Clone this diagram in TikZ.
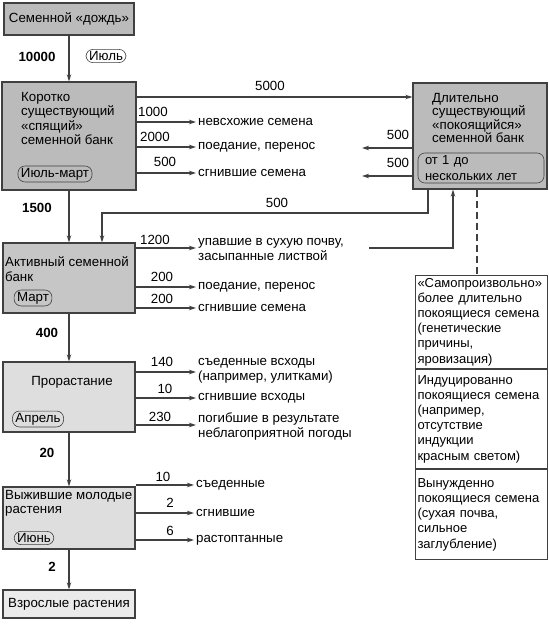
\documentclass[tikz,border=0pt]{standalone}
\usepackage{fontspec}
\setmainfont{Liberation Sans}
\usetikzlibrary{arrows.meta}
\definecolor{ln}{HTML}{404040}
\definecolor{dk}{HTML}{BBBBBB}
\definecolor{md}{HTML}{C6C6C6}
\definecolor{lt}{HTML}{DEDEDE}
\definecolor{vl}{HTML}{EBEBEB}
\begin{document}
\begin{tikzpicture}[x=1pt,y=-1pt,
  font=\fontsize{13.3}{15}\selectfont,
  box/.style={draw=ln, line width=1.3pt, inner sep=0pt},
  arr/.style={draw=ln, line width=1.3pt, -{Stealth[length=7pt,width=4.5pt]}},
  pill/.style={draw=ln, line width=0.6pt, rounded corners=7pt, inner xsep=3pt, inner ysep=2pt},
  txt/.style={inner sep=2pt, align=left},
  num/.style={inner sep=1pt},
  bnum/.style={inner sep=1pt, font=\fontsize{13.3}{15}\selectfont\bfseries},
  stk/.style={draw=ln, line width=1pt, anchor=north west, text width=128pt, inner xsep=2pt, inner ysep=0pt, align=left, font=\fontsize{13}{15.2}\selectfont}]
\useasboundingbox (0,0) rectangle (549,624);
\fill[white] (0,0) rectangle (549,624);

% boxes
\node[box, fill=dk, minimum width=130pt, minimum height=32pt] (rain) at (69,19) {Семенной «дождь»};
\node[box, fill=dk, minimum width=134pt, minimum height=108pt] (short) at (69,136) {};
\node[box, fill=dk, minimum width=134pt, minimum height=106pt] (long) at (480,136) {};
\node[box, fill=md, minimum width=132pt, minimum height=70pt] (active) at (69,278) {};
\node[box, fill=lt, minimum width=132pt, minimum height=70pt] (germ) at (69,397) {};
\node[box, fill=lt, minimum width=132pt, minimum height=62pt] (surv) at (69,518) {};
\node[box, fill=vl, minimum width=132pt, minimum height=28pt] (adult) at (69,604) {Взрослые растения};

% box texts
\node[txt, anchor=west, font=\fontsize{13.3}{14.5}\selectfont] (shortt) at (19,118.5) {Коротко\\существующий\\«спящий»\\семенной банк};
\node[pill] (p1) at (55,174) {Июль-март};
\node[txt, anchor=west, font=\fontsize{13.3}{13.5}\selectfont] (longt) at (430,118) {Длительно\\существующий\\«покоящийся»\\семенной банк};
\node[pill, text width=112pt, inner xsep=7pt, inner ysep=2.5pt, align=left, font=\fontsize{13}{16}\selectfont] (p2) at (481,168) {от 1 до\\нескольких лет};
\node[txt, anchor=west] (activet) at (3,269.5) {Активный семенной\\банк};
\node[pill] (p3) at (33,298) {Март};
\node[txt] (germt) at (72,382) {Прорастание};
\node[pill] (p4) at (38,419) {Апрель};
\node[txt, anchor=west, font=\fontsize{13.3}{13.5}\selectfont] (survt) at (3,503.5) {Выжившие молодые\\растения};
\node[pill] (p5) at (34,538) {Июнь};
\node[pill] (p0) at (106,56) {Июль};

% main flow
\draw[arr] (rain.south) -- (short.north);
\node[bnum] (b1) at (37,57) {10000};
\draw[arr] (short.south) -- (active.north);
\node[bnum] (b2) at (37,208) {1500};
\draw[arr] (active.south) -- (germ.north);
\node[bnum] (b3) at (47,333) {400};
\draw[arr] (germ.south) -- (surv.north);
\node[bnum] (b4) at (47,453) {20};
\draw[arr] (surv.south) -- (adult.north);
\node[bnum] (b5) at (52,567) {2};

% losses from short-lived bank
\node[txt, anchor=west] (s1) at (196,122) {невсхожие семена};
\node[txt, anchor=west] (s2) at (196,147) {поедание, перенос};
\node[txt, anchor=west] (s3) at (196,173) {сгнившие семена};
\draw[arr] (short.east |- s1.west) -- (s1.west);
\draw[arr] (short.east |- s2.west) -- (s2.west);
\draw[arr] (short.east |- s3.west) -- (s3.west);
\node[num] (n1) at (153,112) {1000};
\node[num] (n2) at (155,137) {2000};
\node[num] (n3) at (165,162) {500};

% short -> long
\coordinate (c5000) at (300,97);
\draw[arr] (short.east |- c5000) -- (long.west |- c5000);
\node[num] (n5000) at (270,86) {5000};

% long -> losses
\coordinate (e1) at (362,148);
\coordinate (e2) at (362,176);
\draw[arr] (long.west |- e1) -- (e1);
\draw[arr] (long.west |- e2) -- (e2);
\node[num] (n6) at (398,135) {500};
\node[num] (n7) at (398,163) {500};

% long -> active
\coordinate (j1) at (428,213);
\coordinate (j2) at (102,213);
\draw[arr] (long.south -| j1) -- (j1) -- (j2) -- (active.north -| j2);
\node[num] (n8) at (277,203) {500};

% losses from active bank
\node[txt, anchor=west] (a1) at (196,249) {упавшие в сухую почву,\\засыпанные листвой};
\node[txt, anchor=west] (a2) at (196,287) {поедание, перенос};
\node[txt, anchor=west] (a3) at (196,308) {сгнившие семена};
\draw[arr] (active.east |- 0,248) -- (a1.west |- 0,248);
\draw[arr] (active.east |- a2.west) -- (a2.west);
\draw[arr] (active.east |- a3.west) -- (a3.west);
\node[num] (n9) at (155,240) {1200};
\node[num] (n10) at (162,277) {200};
\node[num] (n11) at (162,299) {200};

% fallen seeds -> long bank
\coordinate (k1) at (369,248);
\coordinate (k2) at (453,248);
\draw[arr] (k1) -- (k2) -- (long.south -| k2);

% stack of dormancy types
\node[stk, minimum height=93pt] (st1) at (415,275) {«Самопроизвольно»\\более длительно\\покоящиеся семена\\(генетические\\причины,\\яровизация)};
\node[stk, minimum height=99pt] (st2) at (st1.south west) {Индуцированно\\покоящиеся семена\\(например,\\отсутствие\\индукции\\красным светом)};
\node[stk, minimum height=90pt] (st3) at (st2.south west) {Вынужденно\\покоящиеся семена\\(сухая почва,\\сильное\\заглубление)};
\coordinate (d1) at (477,0);
\draw[ln, line width=1.3pt, dash pattern=on 7pt off 4pt] (long.south -| d1) -- (st1.north -| d1);

% losses from germination
\node[txt, anchor=west] (g1) at (196,371) {съеденные всходы\\(например, улитками)};
\node[txt, anchor=west] (g2) at (196,398) {сгнившие всходы};
\node[txt, anchor=west] (g3) at (196,426) {погибшие в результате\\неблагоприятной погоды};
\draw[arr] (germ.east |- 0,372) -- (g1.west |- 0,372);
\draw[arr] (germ.east |- g2.west) -- (g2.west);
\draw[arr] (germ.east |- 0,425) -- (g3.west |- 0,425);
\node[num] (n12) at (162,362) {140};
\node[num] (n13) at (165,389) {10};
\node[num] (n14) at (160,417) {230};

% losses from survivors
\node[txt, anchor=west] (v1) at (194,485) {съеденные};
\node[txt, anchor=west] (v2) at (194,513) {сгнившие};
\node[txt, anchor=west] (v3) at (194,540) {растоптанные};
\draw[arr] (surv.east |- v1.west) -- (v1.west);
\draw[arr] (surv.east |- v2.west) -- (v2.west);
\draw[arr] (surv.east |- v3.west) -- (v3.west);
\node[num] (n15) at (163,477) {10};
\node[num] (n16) at (170,503) {2};
\node[num] (n17) at (170,531) {6};
\end{tikzpicture}
\end{document}
